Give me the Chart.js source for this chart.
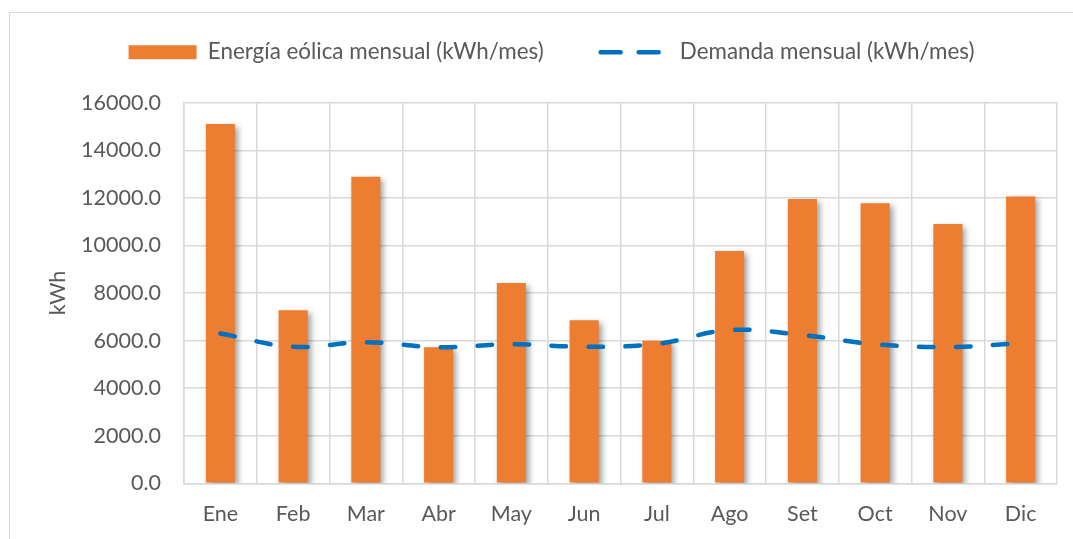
<!DOCTYPE html>
<html>
<head>
<meta charset="utf-8">
<script src="https://cdn.jsdelivr.net/npm/chart.js@4/dist/chart.umd.min.js"></script>
<style>
  html, body { margin: 0; padding: 0; background: #ffffff; overflow: hidden; }
  #wrap { position: relative; width: 1073px; height: 539px; overflow: hidden; }
  #frame { position: absolute; left: 9px; top: 12px; width: 1100px; height: 600px;
           border-left: 1px solid #d9d9d9; border-top: 1px solid #d9d9d9; }
  #c { position: absolute; left: 0; top: -16px; }
</style>
</head>
<body>
<div id="wrap">
  <div id="frame"></div>
  <canvas id="c" width="1073" height="555"></canvas>
</div>
<script>
// ---- data ----
const categories = ['Ene','Feb','Mar','Abr','May','Jun','Jul','Ago','Set','Oct','Nov','Dic'];
const energiaEolica = [15100, 7280, 12890, 5720, 8420, 6850, 5990, 9770, 11950, 11770, 10900, 12060];
const demanda = [6300, 5740, 5930, 5720, 5845, 5745, 5860, 6440, 6230, 5845, 5730, 5885];
const seriesLabels = ['Energía eólica mensual (kWh/mes)', 'Demanda mensual (kWh/mes)'];
const yAxisTitle = 'kWh';
const yMin = 0, yMax = 16000, yStep = 2000;

const FONT = 'Lato';
const TXT = '#595959';
const GRID = '#d9d9d9';
const SHIFT = 16;          // canvas offset upward
const CANVAS_H = 539 + SHIFT;
const LEGEND_DX = 23;

const barShadow = {
  id: 'barShadow',
  beforeDatasetDraw(chart, args) {
    if (args.index === 0) {
      const c = chart.ctx;
      c.save();
      c.shadowColor = 'rgba(0,0,0,0.38)';
      c.shadowBlur = 6;
      c.shadowOffsetX = 3;
      c.shadowOffsetY = 3;
    }
  },
  afterDatasetDraw(chart, args) {
    if (args.index === 0) chart.ctx.restore();
  }
};

const legendPatch = {
  id: 'legendPatch',
  beforeInit(chart) {
    const lg = chart.legend;
    const origFit = lg.fit;
    lg.fit = function () { origFit.call(this); this.height = 102.7 + SHIFT; };
    const origDraw = lg.draw;
    lg.draw = function () {
      const l = this.left, r = this.right;
      this.left += LEGEND_DX; this.right += LEGEND_DX;
      origDraw.call(this);
      this.left = l; this.right = r;
    };
  }
};

new Chart(document.getElementById('c'), {
  data: {
    labels: categories,
    datasets: [
      {
        type: 'bar',
        label: seriesLabels[0],
        data: energiaEolica,
        backgroundColor: '#ED7D31',
        borderWidth: 0,
        barPercentage: 0.4,
        categoryPercentage: 1.0,
        order: 1
      },
      {
        type: 'line',
        label: seriesLabels[1],
        data: demanda,
        borderColor: '#0070C0',
        backgroundColor: '#0070C0',
        borderWidth: 4.5,
        borderDash: [14.5, 22.5],
        borderCapStyle: 'round',
        tension: 0.4,
        pointRadius: 0,
        pointHoverRadius: 0,
        fill: false,
        order: 0
      }
    ]
  },
  options: {
    responsive: false,
    animation: false,
    devicePixelRatio: 1,
    layout: { padding: { left: 0, right: 16, top: 0, bottom: 0 } },
    plugins: {
      tooltip: { enabled: false },
      legend: {
        position: 'top',
        align: 'center',
        labels: {
          usePointStyle: true,
          pointStyleWidth: 68,
          boxHeight: 14,
          padding: 57,
          color: TXT,
          font: { family: FONT, size: 22.4 },
          generateLabels(chart) {
            const items = Chart.defaults.plugins.legend.labels.generateLabels(chart);
            items.sort((a, b) => a.datasetIndex - b.datasetIndex);
            items.forEach(it => {
              if (it.datasetIndex === 0) {
                it.pointStyle = 'rect';
                it.lineWidth = 0;
                it.strokeStyle = 'rgba(0,0,0,0)';
                it.fillStyle = '#ED7D31';
              } else {
                it.pointStyle = 'line';
                it.lineWidth = 4.5;
                it.lineDash = [20, 18];
                it.lineCap = 'round';
                it.strokeStyle = '#0070C0';
              }
            });
            return items;
          }
        }
      }
    },
    scales: {
      x: {
        offset: true,
        grid: { offset: true, color: GRID, lineWidth: 1.5, drawTicks: false },
        border: { color: GRID, width: 1.5 },
        ticks: { color: TXT, font: { family: FONT, size: 21.5 }, padding: 18, maxRotation: 0 },
        afterFit(scale) { scale.height = CANVAS_H - (483.3 + SHIFT); }
      },
      y: {
        min: yMin,
        max: yMax,
        grid: { color: GRID, lineWidth: 1.5, drawTicks: false },
        border: { color: GRID, width: 1.5 },
        ticks: {
          stepSize: yStep,
          color: TXT,
          font: { family: FONT, size: 21.5 },
          padding: 23,
          callback: v => Number(v).toFixed(1)
        },
        title: {
          display: true,
          text: yAxisTitle,
          color: TXT,
          font: { family: FONT, size: 21.5 },
          padding: { top: 45, bottom: 0 }
        },
        afterFit(scale) { scale.width = 184; }
      }
    }
  },
  plugins: [barShadow, legendPatch]
});
</script>
</body>
</html>
